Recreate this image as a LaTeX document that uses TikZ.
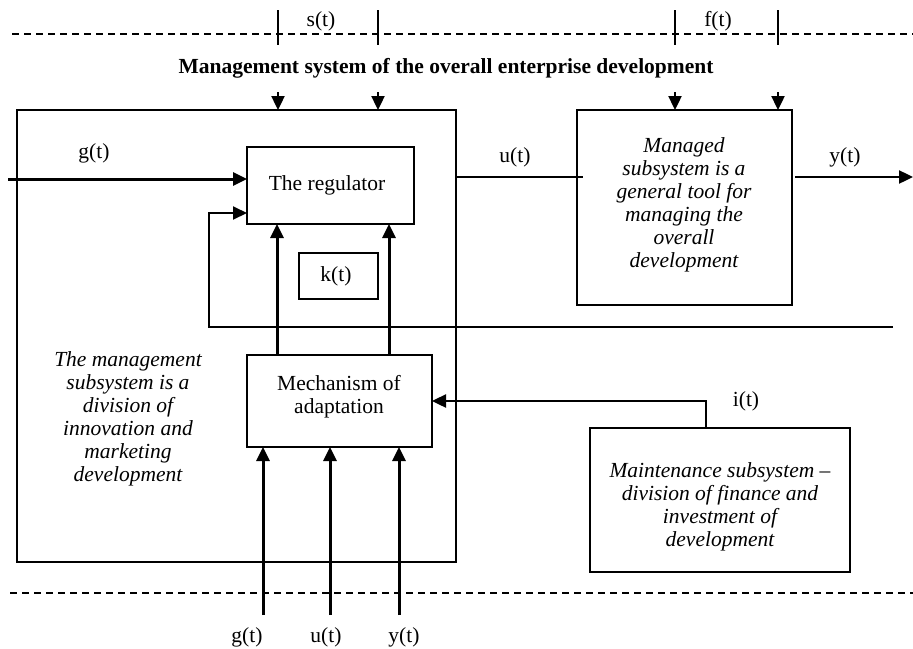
\documentclass[tikz,border=0pt]{standalone}
\usepackage{fontspec}
\setmainfont{Liberation Serif}
\usetikzlibrary{arrows.meta}
\tikzset{
  box/.style={draw, line width=1.9pt, inner sep=0pt, outer sep=0pt},
  txt/.style={font=\fontsize{21.5}{23}\selectfont, inner sep=0pt, align=center},
  ittxt/.style={font=\fontsize{21.5}{23}\selectfont\itshape, inner sep=0pt, align=center},
  thickarrow/.style={line width=3pt, -{Triangle[length=14pt,width=13pt]}},
  medarrow/.style={line width=2.4pt, -{Triangle[length=14pt,width=13pt]}},
  thinline/.style={line width=2pt},
  tick/.style={line width=2.6pt},
  dashline/.style={line width=1.6pt, dash pattern=on 7pt off 5pt},
}
\begin{document}
\begin{tikzpicture}[x=1pt,y=-1pt]
\useasboundingbox[fill=white] (0,0) rectangle (913,648);

% dashed boundaries
\coordinate (dtl) at (12,34);
\coordinate (dtr) at (913,34);
\coordinate (dbl) at (10,593);
\coordinate (dbr) at (913,593);
\draw[dashline] (dtl) -- (dtr);
\draw[dashline] (dbl) -- (dbr);

% ticks and labels on top
\coordinate (s1a) at (278,10); \coordinate (s1b) at (278,45);
\coordinate (s2a) at (378,10); \coordinate (s2b) at (378,45);
\coordinate (f1a) at (675,10); \coordinate (f1b) at (675,45);
\coordinate (f2a) at (778,10); \coordinate (f2b) at (778,45);
\draw[tick] (s1a) -- (s1b);
\draw[tick] (s2a) -- (s2b);
\draw[tick] (f1a) -- (f1b);
\draw[tick] (f2a) -- (f2b);
\node[txt] (slab) at (321,21) {s(t)};
\node[txt] (flab) at (718,21) {f(t)};

% title
\node[txt, font=\fontsize{21.5}{23}\selectfont\bfseries] (title) at (446,68) {Management system of the overall enterprise development};

% boxes
\node[box, minimum width=439pt, minimum height=452pt] (mgmt) at (236.5,336) {};
\node[box, minimum width=167pt, minimum height=77pt] (reg) at (330.5,185.5) {};
\node[txt] (regtxt) at (327,185) {The regulator};
\node[box, minimum width=79pt, minimum height=46pt] (kt) at (338.5,276) {};
\node[txt] (kttxt) at (336,276) {k(t)};
\node[box, minimum width=185pt, minimum height=92pt] (mech) at (339.5,401) {};
\node[txt] (mechtxt) at (339,397) {Mechanism of\\adaptation};
\node[box, minimum width=215pt, minimum height=195pt] (managed) at (684.5,207.5) {};
\node[ittxt] (managedtxt) at (684,205) {Managed\\subsystem is a\\general tool for\\managing the\\overall\\development};
\node[box, minimum width=260pt, minimum height=144pt] (maint) at (720,500) {};
\node[ittxt] (mainttxt) at (720,507) {Maintenance subsystem --\\division of finance and\\investment of\\development};
\node[ittxt] (mgmttxt) at (128,419) {The management\\subsystem is a\\division of\\innovation and\\marketing\\development};

% top inputs (down arrows)
\coordinate (ds1) at (278,92);
\coordinate (ds2) at (378,92);
\coordinate (df1) at (675,92);
\coordinate (df2) at (778,92);
\draw[medarrow] (ds1) -- (ds1 |- mgmt.north);
\draw[medarrow] (ds2) -- (ds2 |- mgmt.north);
\draw[medarrow] (df1) -- (df1 |- managed.north);
\draw[medarrow] (df2) -- (df2 |- managed.north);

% g(t) input
\coordinate (gin) at (8,179);
\draw[thickarrow] (gin) -- (reg.west |- gin);
\node[txt] (glab) at (94,153) {g(t)};

% feedback
\coordinate (fbR) at (893,327);
\coordinate (fbL) at (209,327);
\coordinate (fbU) at (209,213);
\draw[thinline, -{Triangle[length=14pt,width=13pt]}] (fbR) -- (fbL) -- (fbU) -- (reg.west |- fbU);

% u(t)
\coordinate (uin) at (583,177);
\draw[thinline] (mgmt.east |- uin) -- (uin);
\node[txt] (ulab) at (515,157) {u(t)};

% y(t)
\coordinate (yout) at (913,177);
\draw[medarrow] (managed.east |- yout) ++(3,0) -- (yout);
\node[txt] (ylab) at (845,157) {y(t)};

% mechanism to regulator
\coordinate (m1) at (277,355);
\coordinate (m2) at (389,355);
\draw[thickarrow] (m1) -- (m1 |- reg.south);
\draw[thickarrow] (m2) -- (m2 |- reg.south);

% i(t) into mechanism
\coordinate (ic) at (706,401);
\draw[medarrow] (ic |- maint.north) -- (ic) -- (mech.east |- ic);
\node[txt] (ilab) at (746,401) {i(t)};

% bottom inputs
\coordinate (b1) at (263,615);
\coordinate (b2) at (330,615);
\coordinate (b3) at (399,615);
\draw[thickarrow] (b1) -- (b1 |- mech.south);
\draw[thickarrow] (b2) -- (b2 |- mech.south);
\draw[thickarrow] (b3) -- (b3 |- mech.south);
\node[txt] (bg) at (247,637) {g(t)};
\node[txt] (bu) at (326,637) {u(t)};
\node[txt] (by) at (404,637) {y(t)};
\end{tikzpicture}
\end{document}
